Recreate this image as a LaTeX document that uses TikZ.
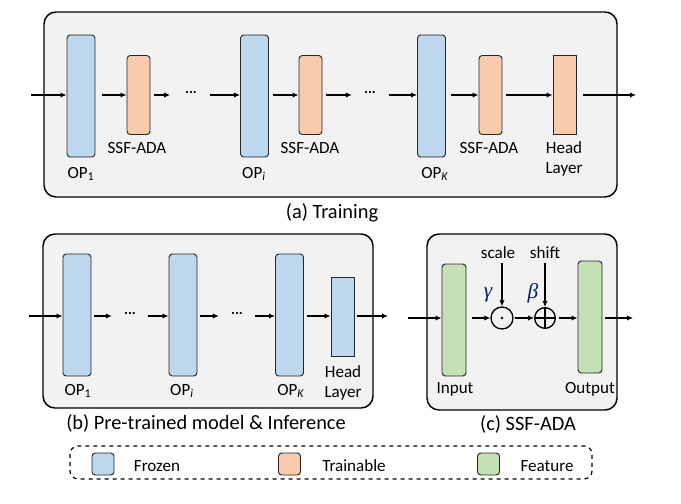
\documentclass[tikz,border=0pt]{standalone}
\usepackage{fontspec}
\setmainfont{Carlito}
\newfontfamily\grkfont{Liberation Serif}
\usetikzlibrary{arrows.meta}
\definecolor{frz}{HTML}{BDD7EE}
\definecolor{trn}{HTML}{F8CBAD}
\definecolor{fea}{HTML}{C5E0B4}
\definecolor{pan}{HTML}{F2F2F2}
\definecolor{navy}{HTML}{002060}
\tikzset{
  panel/.style={draw=black, line width=1.1pt, fill=pan, rounded corners=9pt},
  blk/.style={draw=black!85, line width=0.7pt, rounded corners=2.5pt, inner sep=0pt},
  opbox/.style={blk, fill=frz, minimum width=21pt, minimum height=91.5pt},
  ssfbox/.style={blk, fill=trn, minimum width=17.25pt, minimum height=59.25pt},
  headbox/.style={draw=black!85, line width=0.7pt, inner sep=0pt, minimum width=17.25pt, minimum height=59.25pt},
  featbox/.style={blk, fill=fea, minimum width=18pt, minimum height=84pt},
  swatch/.style={blk, minimum width=16.5pt, minimum height=16.5pt},
  arr/.style={-{Latex[length=4.5pt,width=4pt]}, line width=0.9pt},
  lbl/.style={font=\fontsize{12.8}{13}\selectfont, inner sep=0pt},
  captxt/.style={font=\fontsize{15.3}{17}\selectfont, inner sep=0pt},
  dotstxt/.style={font=\fontsize{11}{12}\selectfont\bfseries, inner sep=0pt},
  greek/.style={inner sep=0pt, text=navy, font=\grkfont\itshape\fontsize{16}{17}\selectfont},
}
\begin{document}
\begin{tikzpicture}[x=0.75pt,y=-0.75pt]
\useasboundingbox (0,0) rectangle (681,503);
% ---------- (a) Training ----------
\draw[panel] (44,12) rectangle (617,197);
\coordinate (ain) at (31,95);
\node[opbox] (op1) at (81,96) {};
\node[ssfbox] (s1) at (138.5,95) {};
\node[dotstxt] (d1) at (191,93) {...};
\node[opbox] (opi) at (254.5,96) {};
\node[ssfbox] (si) at (310.5,95) {};
\node[dotstxt] (d2) at (370,93) {...};
\node[opbox] (opk) at (431.5,96) {};
\node[ssfbox] (sk) at (490.5,95) {};
\node[headbox, fill=trn] (ha) at (564.5,95) {};
\coordinate (aout) at (636,95);
\draw[arr] (ain) -- (op1.west |- ain);
\draw[arr, shorten <=5pt] (op1.east |- ain) -- (s1.west |- ain);
\draw[arr, shorten <=3pt] (s1.east |- ain) -- ([xshift=-11pt]d1.west |- ain);
\draw[arr] ([xshift=10pt]d1.east |- ain) -- (opi.west |- ain);
\draw[arr, shorten <=3pt] (opi.east |- ain) -- (si.west |- ain);
\draw[arr, shorten <=3pt] (si.east |- ain) -- ([xshift=-9pt]d2.west |- ain);
\draw[arr] ([xshift=10pt]d2.east |- ain) -- (opk.west |- ain);
\draw[arr, shorten <=4pt] (opk.east |- ain) -- (sk.west |- ain);
\draw[arr, shorten <=3pt] (sk.east |- ain) -- (ha.west |- ain);
\draw[arr, shorten <=5pt] (ha.east |- ain) -- (aout);
\node[lbl] (l1) at (81,174) {OP\textsubscript{1}};
\node[lbl] (l2) at (137,148) {SSF-ADA};
\node[lbl] (l3) at (254,174) {OP\textsubscript{\textit{i}}};
\node[lbl] (l4) at (310,148) {SSF-ADA};
\node[lbl] (l5) at (435,174) {OP\textsubscript{\textit{K}}};
\node[lbl] (l6) at (489,148) {SSF-ADA};
\node[lbl] (l7) at (564,148) {Head};
\node[lbl] (l8) at (564,169) {Layer};
\node[captxt] (ca) at (332,213) {(a) Training};
% ---------- (b) Pre-trained ----------
\draw[panel] (43,234) rectangle (373,408);
\coordinate (bin) at (29,316);
\node[opbox] (b1) at (77,315) {};
\node[dotstxt] (e1) at (130,314) {...};
\node[opbox] (bi) at (183,315) {};
\node[dotstxt] (e2) at (237,314) {...};
\node[opbox] (bk) at (289.5,315) {};
\node[headbox, fill=frz] (hb) at (342.5,316.5) {};
\coordinate (bout) at (388,316);
\draw[arr] (bin) -- (b1.west |- bin);
\draw[arr, shorten <=2pt] (b1.east |- bin) -- ([xshift=-9pt]e1.west |- bin);
\draw[arr] ([xshift=9pt]e1.east |- bin) -- (bi.west |- bin);
\draw[arr, shorten <=2pt] (bi.east |- bin) -- ([xshift=-9pt]e2.west |- bin);
\draw[arr] ([xshift=9pt]e2.east |- bin) -- (bk.west |- bin);
\draw[arr, line width=1.3pt, shorten <=2pt] (bk.east |- bin) -- (hb.west |- bin);
\draw[arr, shorten <=2pt] (hb.east |- bin) -- (bout);
\node[lbl] (m1) at (78,391) {OP\textsubscript{1}};
\node[lbl] (m2) at (182,391) {OP\textsubscript{\textit{i}}};
\node[lbl] (m3) at (291,391) {OP\textsubscript{\textit{K}}};
\node[lbl] (m4) at (343,372) {Head};
\node[lbl] (m5) at (343,393) {Layer};
\node[captxt] (cb) at (206,423) {(b) Pre-trained model \& Inference};
% ---------- (c) SSF-ADA ----------
\draw[panel] (427,234) rectangle (617,410);
\coordinate (cin) at (408,318);
\node[featbox] (inp) at (454,320) {};
\node[draw, circle, line width=1pt, minimum size=16.5pt, inner sep=0pt] (od) at (502,318) {};
\fill (od.center) circle (1.1pt);
\node[draw, circle, line width=1pt, minimum size=15.5pt, inner sep=0pt] (op) at (545,318) {};
\draw[line width=1pt] (op.north) -- (op.south) (op.west) -- (op.east);
\node[featbox] (outp) at (590,317) {};
\coordinate (cout) at (633,318);
\draw[arr] (cin) -- (inp.west |- cin);
\draw[arr, shorten <=4pt] (inp.east |- cin) -- (od.west);
\draw[arr, shorten <=1pt] (od.east) -- (op.west);
\draw[arr, shorten <=2pt] (op.east) -- (outp.west |- cin);
\draw[arr, shorten <=2pt] (outp.east |- cin) -- (cout);
\node[lbl] (sc) at (498,253) {scale};
\node[lbl] (sh) at (545,253) {shift};
\draw[arr] (od.north |- 0,263) -- (od.north);
\draw[arr] (op.north |- 0,263) -- (op.north);
\node[greek] (ga) at (488,295) {γ};
\node[greek] (be) at (533,293) {β};
\node[lbl] (n1) at (455,389) {Input};
\node[lbl] (n2) at (590,389) {Output};
\node[captxt] (cc) at (528,424) {(c) SSF-ADA};
% ---------- legend ----------
\draw[dashed, line width=0.9pt, rounded corners=6pt] (70,446) rectangle (592,479);
\node[swatch, fill=frz] (k1) at (103,464) {};
\node[swatch, fill=trn] (k2) at (289.5,464) {};
\node[swatch, fill=fea] (k3) at (488.5,464) {};
\node[lbl] (t1) at (157,466) {Frozen};
\node[lbl] (t2) at (354,466) {Trainable};
\node[lbl] (t3) at (547,466) {Feature};
\end{tikzpicture}
\end{document}
